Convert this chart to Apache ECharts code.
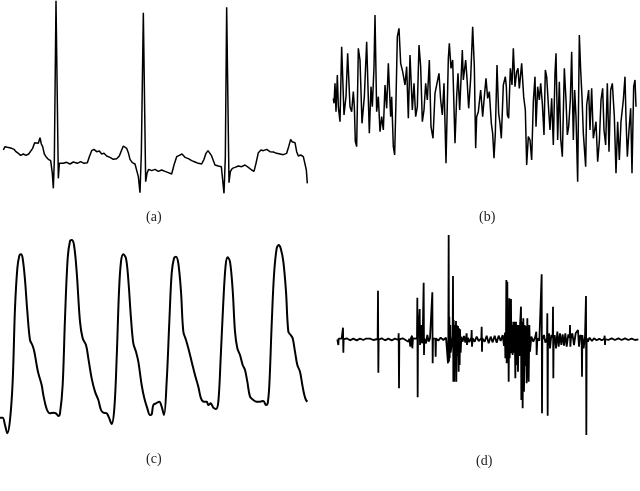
<!DOCTYPE html>
<html>
<head>
<meta charset="utf-8">
<script src="https://cdn.jsdelivr.net/npm/echarts@6/dist/echarts.min.js"></script>
<style>
  html, body { margin: 0; padding: 0; background: #fff; }
  #chart { width: 640px; height: 491px; }
</style>
</head>
<body>
<div id="chart"></div>
<script>
// (a) ECG - sample time / amplitude
var ecgT = [10,15,22,28,35,42,48,55,62,70,78,86,92,98,104,110,115,120,124,128,133,138,145,152,157,160,163,168,175,178,183,190,200,210,220,232,242,252,262,268,275,282,290,298,305,312,320,330,340,350,358,365,370,375,380,385,390,397,405,410,415,420,424,430,437,441,446,455,465,475,485,495,505,515,522,530,538,546,555,565,575,585,595,605,612,618,624,630,634,640,645,655,664,668,672,676,680,687,691,697,705,715,725,735,745,755,762,768,775,783,790,800,810,820,830,840,850,860,866,872,876,880,885,890,895,902,910,916,919,922];
var ecgV = [40,50,48,52,45,42,35,30,24,28,24,28,32,45,62,68,60,77,58,50,28,20,12,8,-30,-75,10,488,-45,0,4,0,3,-2,4,0,5,0,2,20,38,42,35,37,28,30,22,18,12,14,22,40,52,58,45,32,12,2,-2,-5,-40,-88,30,452,-55,-30,-18,-22,-18,-24,-20,-24,-28,-32,-5,20,24,28,18,14,8,4,0,-2,12,30,38,44,24,18,-5,-8,-10,-50,-90,20,468,-58,-25,-15,-12,-8,-10,-5,-12,-20,-24,0,32,40,38,42,35,34,30,28,26,30,50,72,65,70,62,35,22,25,20,15,-20,-60];

// (b) noise
var noiseT = [40,42,45,48,52,55,60,65,72,78,83,90,95,100,103,106,110,115,120,126,133,140,148,153,157,162,165,170,175,180,185,190,195,200,205,212,215,220,224,228,232,237,242,248,255,260,265,270,277,282,287,292,297,302,307,312,317,322,328,333,339,345,352,357,362,367,372,378,385,388,393,398,405,410,414,419,427,430,437,441,446,452,458,463,467,470,475,482,488,493,498,503,508,514,518,522,526,531,536,540,544,550,556,559,562,566,571,576,580,585,590,594,598,605,611,616,620,625,630,635,640,645,648,653,658,662,667,672,676,680,686,690,695,700,705,708,713,718,722,727,733,738,742,746,751,755,760,764,768,773,778,782,786,790,797,800,806,810,815,820,825,828,833,838,843,848,852,857,862,867,872,877,883,888,893,898,903,910,915,918,922,927,932,936,941,945,948];
var noiseV = [5,-10,50,-35,75,-20,-65,160,-45,10,140,-20,-35,25,-20,-125,-140,155,120,-70,10,175,-100,40,-20,100,255,-35,10,-95,-50,-90,45,-25,110,-50,10,-140,-165,0,190,215,110,85,45,100,-55,135,-30,50,-50,-20,165,100,-65,-30,50,0,120,-80,-115,20,55,80,0,-45,50,-190,125,170,95,120,-130,10,80,-30,150,60,120,65,-25,65,220,100,-145,-50,-35,30,-50,10,65,5,25,-70,-100,-175,-100,105,-40,-70,-115,45,70,40,-45,-55,95,45,155,40,85,95,35,110,10,-30,-195,-110,-120,-180,-5,70,-80,40,0,50,-10,-105,90,70,-30,-90,5,-135,80,140,-120,55,-115,-170,95,0,-105,-80,0,145,-120,30,-50,-245,195,90,10,-100,-200,-15,30,-90,35,-115,-115,-65,-185,-125,0,35,-90,-135,50,-155,30,50,-50,-220,-65,-180,-65,0,70,-55,-170,-90,-25,-220,40,60,-20];

// (c) PPG
var ppgT = [0,8,15,22,30,38,45,52,58,63,68,75,82,90,97,103,110,115,125,130,140,150,160,168,175,180,188,195,203,210,215,222,230,240,248,258,265,275,285,295,303,310,320,327,335,343,350,357,363,370,378,385,393,400,408,415,425,433,442,450,455,460,468,478,485,492,500,508,515,522,528,535,543,550,558,565,575,585,595,603,612,620,625,632,640,648,655,662,670,677,683,690,698,705,712,720,728,735,742,750,760,770,780,790,798,803,808,815,822,830,836,842,850,858,865,872,878,885,892,900,907,913,918,922];
var ppgV = [-8,-8,-30,-55,-15,100,320,440,478,482,470,405,310,225,210,190,150,125,90,60,18,5,7,5,-3,5,90,290,470,522,525,510,430,280,230,210,170,110,70,45,15,7,5,-8,-27,20,170,370,460,482,470,405,290,215,190,160,90,50,20,0,2,30,35,40,25,0,100,280,425,470,475,455,370,250,225,200,160,120,85,50,40,40,30,35,22,18,40,170,340,450,473,460,375,250,200,180,150,135,100,55,45,40,40,42,30,35,90,270,420,500,510,500,460,370,250,240,230,190,150,130,90,60,45,40];

// (d) EMG
var emgT = [52,54,55,56,60,65,68,69,70,71,80,90,100,110,120,130,137,138,139,150,160,173,174,175,176,185,195,205,215,225,235,236,237,238,248,258,265,268,270,271,273,276,277,279,285,291,292,293,294,298,299,300,301,304,305,306,308,310,311,312,313,318,322,326,330,336,337,338,339,343,346,347,348,355,362,370,378,383,384,385,386,387,388,389,390,391,392,398,399,400,401,403,404,406,408,409,410,412,414,416,417,419,420,422,424,428,432,436,440,441,444,448,454,455,456,458,464,470,476,484,485,486,487,494,500,506,512,518,524,530,536,542,548,552,555,556,558,559,560,562,563,565,566,568,569,571,573,574,576,578,580,582,584,586,588,590,592,594,596,598,600,603,604,606,608,610,612,614,616,618,620,622,624,626,628,630,634,640,645,649,650,652,658,664,665,666,667,672,676,681,682,683,684,687,690,694,698,699,700,701,704,708,712,716,720,724,728,732,736,740,745,749,750,751,753,757,762,767,771,774,777,781,785,786,787,791,795,797,798,799,800,804,808,812,816,822,830,838,845,853,854,855,856,865,875,885,895,905,915,925,935,945,955];
var emgV = [0,-4,-17,2,-3,2,-2,35,-40,0,3,-3,2,-3,2,-2,2,8,-3,2,-2,1,146,-100,-1,3,-3,2,-3,2,-2,18,-147,0,3,-3,-7,2,8,-22,4,11,-27,3,-3,2,125,-174,5,3,91,-17,3,2,43,-12,2,1,170,-47,2,-12,13,-7,3,2,141,-72,3,8,2,-52,3,-4,5,-2,5,8,-72,5,313,-67,68,-57,10,43,-40,10,190,-127,58,-127,43,-60,55,-127,43,-50,40,-97,33,-77,30,-40,8,-7,10,-10,18,-17,5,-8,5,28,-22,3,-7,8,-5,3,38,-37,3,-7,11,-12,8,-9,11,-10,11,-5,13,-20,20,-57,10,178,-72,173,-60,40,-127,123,-57,30,121,-42,43,-47,53,-40,53,-117,53,-77,43,-97,43,-50,40,98,-182,53,-207,63,-157,43,-80,40,-132,63,-60,-127,43,-37,8,-7,5,23,-47,3,-4,2,195,-222,-2,13,-10,2,78,-229,5,18,-27,13,5,98,-117,5,13,-27,23,-22,18,-17,15,-19,18,-22,15,5,43,-22,5,18,-17,18,23,28,-22,13,5,-112,13,-27,8,2,130,-287,3,-7,5,8,-5,3,-3,2,-3,2,11,-17,1,-2,3,-2,3,-2,3,-2,2,-2,0];

var labels = ['(a)', '(b)', '(c)', '(d)'];

function zip(t, v) {
  return t.map(function (x, i) { return [x, v[i]]; });
}

var chart = echarts.init(document.getElementById('chart'), null, { renderer: 'canvas' });

var hidden = { show: false };
function xAx(i) {
  return { type: 'value', gridIndex: i, min: 0, max: 960, axisLine: hidden, axisTick: hidden, axisLabel: hidden, splitLine: hidden };
}
function yAx(i, lo, hi) {
  return { type: 'value', gridIndex: i, min: lo, max: hi, axisLine: hidden, axisTick: hidden, axisLabel: hidden, splitLine: hidden };
}
function line(i, data, w, smooth) {
  return {
    type: 'line', xAxisIndex: i, yAxisIndex: i, data: data,
    showSymbol: false, smooth: smooth, silent: true,
    lineStyle: { color: '#000', width: w }
  };
}
function label(txt, x, y) {
  return {
    type: 'text', left: x, top: y,
    style: { text: txt, font: '14px "Liberation Serif", "DejaVu Serif", serif', fill: '#222' }
  };
}

chart.setOption({
  animation: false,
  backgroundColor: '#fff',
  grid: [
    { left: 0, top: 0, width: 320, height: 200 },
    { left: 320, top: 0, width: 320, height: 200 },
    { left: 0, top: 225, width: 320, height: 220 },
    { left: 320, top: 225, width: 320, height: 220 }
  ],
  xAxis: [xAx(0), xAx(1), xAx(2), xAx(3)],
  yAxis: [yAx(0, -110, 490), yAx(1, -300, 300), yAx(2, -90, 570), yAx(3, -317, 343)],
  series: [
    line(0, zip(ecgT, ecgV), 1.5, false),
    line(1, zip(noiseT, noiseV), 1.5, false),
    line(2, zip(ppgT, ppgV), 2, 0.35),
    line(3, zip(emgT, emgV), 1.8, false)
  ],
  graphic: [
    label(labels[0], 146, 210),
    label(labels[1], 479, 210),
    label(labels[2], 146, 452),
    label(labels[3], 476, 454)
  ]
});
</script>
</body>
</html>
